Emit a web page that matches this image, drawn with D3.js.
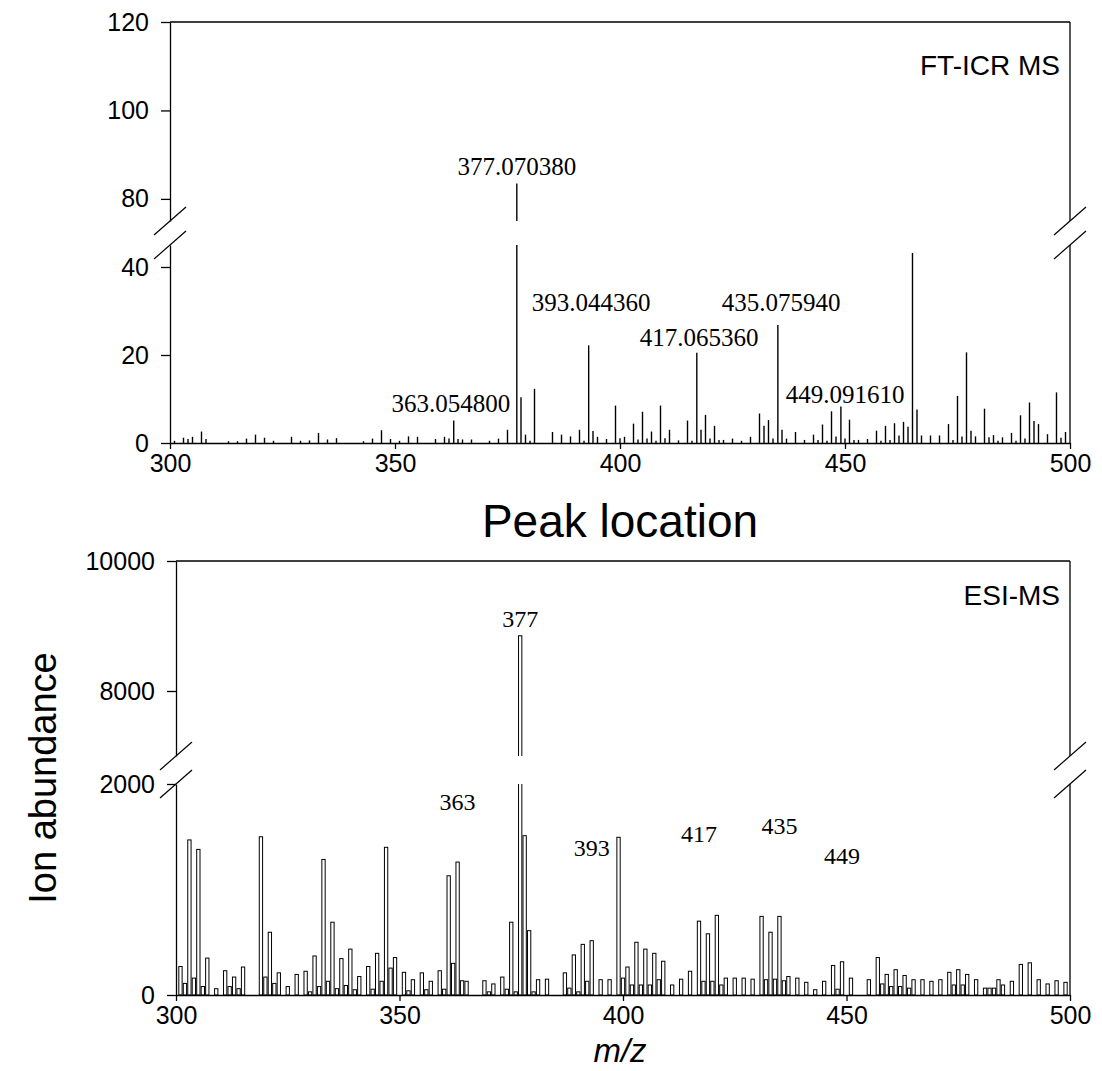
<!DOCTYPE html>
<html>
<head>
<meta charset="utf-8">
<script src="https://cdn.jsdelivr.net/npm/d3@7/dist/d3.min.js"></script>
<style>
body { margin: 0; background: #fff; }
text { fill: #000; }
</style>
</head>
<body>
<svg id="viz"></svg>
<script>
// FT-ICR MS stick spectrum
var ftMz = [301, 303, 304, 305, 307, 308, 313, 315, 317, 319, 321, 323, 327, 329, 331, 333, 335, 337,
    343, 345, 347, 349, 351, 353, 355, 359, 361, 362, 363.05, 364, 365, 367, 371, 373, 375,
    377.07, 378, 379, 380, 381, 385, 387, 389, 391, 392, 393.04, 394, 395, 397, 399, 400, 401, 403, 404,
    405, 406, 407, 408, 409, 410, 411, 413, 415, 416, 417.07, 418, 419, 420, 421, 422, 423, 425, 427,
    429, 431, 432, 433, 434, 435.08, 436, 437, 439, 441, 443, 444, 445, 446, 447, 448, 449.09, 450,
    451, 452, 453, 455, 457, 458, 459, 460, 461, 462, 463, 464, 465, 466, 467, 469, 471, 473, 474,
    475, 476, 477, 478, 479, 481, 482, 483, 484, 485, 487, 488, 489, 490, 491, 492, 493, 495, 497, 498, 499];
var ftAbundance = [0.5, 1.2, 0.9, 1.4, 2.6, 0.9, 0.4, 0.4, 1.0, 1.9, 1.2, 0.5, 1.4, 0.5, 0.6, 2.3, 0.8, 1.1,
    0.4, 1.0, 2.9, 0.9, 0.5, 1.5, 1.4, 0.9, 1.4, 1.0, 5.1, 0.9, 0.8, 0.8, 0.5, 1.0, 3.0,
    83.5, 10.4, 1.9, 0.5, 12.3, 2.5, 1.9, 1.5, 3.0, 0.5, 22.2, 2.7, 1.4, 0.9, 8.5, 1.1, 1.4, 4.4, 0.8,
    7.1, 1.0, 2.6, 0.5, 8.5, 1.1, 3.0, 0.6, 5.1, 0.5, 20.5, 3.0, 6.4, 1.0, 3.9, 0.7, 0.7, 1.0, 0.5,
    1.4, 6.7, 3.9, 5.2, 1.0, 26.8, 3.0, 1.0, 2.5, 0.7, 1.9, 0.7, 4.2, 0.5, 7.2, 1.5, 8.3, 1.0,
    5.3, 0.7, 0.7, 0.9, 2.8, 0.5, 3.9, 0.7, 4.5, 1.7, 4.8, 3.7, 43.2, 7.6, 1.7, 1.7, 1.7, 4.3, 0.7,
    10.7, 1.5, 20.6, 2.8, 1.5, 7.8, 1.3, 1.8, 0.5, 1.3, 2.3, 0.5, 6.3, 1.0, 9.2, 5.0, 4.3, 2.0, 11.5, 1.2, 2.5];
var ftLabels = ["377.070380", "363.054800", "393.044360", "417.065360", "435.075940", "449.091610"];
var ftLabelMz = [377.07, 362.4, 393.6, 417.6, 435.8, 450.0];
var ftLabelAt = [85.5, 7.0, 30.0, 22.0, 30.0, 9.0];

// ESI-MS bar spectrum
var esiMz = [301, 302, 303, 304, 305, 306, 307, 309, 311, 312, 313, 314, 315, 319, 320, 321, 322, 323,
    325, 327, 329, 330, 331, 332, 333, 334, 335, 336, 337, 338, 339, 340, 341, 343, 344, 345, 346, 347,
    348, 349, 351, 352, 353, 355, 356, 357, 359, 360, 361, 362, 363, 364, 365, 369, 370, 371, 373, 374,
    375, 376, 377, 378, 379, 380, 381, 383, 387, 388, 389, 390, 391, 392, 393, 395, 397, 399, 400, 401,
    402, 403, 404, 405, 406, 407, 408, 409, 411, 413, 415, 417, 418, 419, 420, 421, 422, 423, 425, 427,
    429, 431, 432, 433, 434, 435, 436, 437, 439, 441, 443, 445, 447, 448, 449, 451, 455, 457, 458, 459,
    460, 461, 462, 463, 464, 465, 467, 469, 471, 473, 474, 475, 476, 477, 479, 481, 482, 483, 484, 485,
    487, 489, 491, 493, 495, 497, 499];
var esiAbundance = [270, 110, 1470, 160, 1380, 80, 350, 60, 230, 80, 170, 60, 265, 1500, 170, 595, 110, 210,
    80, 195, 225, 30, 370, 80, 1285, 130, 690, 60, 345, 90, 435, 50, 175, 270, 55, 395, 130, 1400,
    255, 355, 215, 40, 145, 210, 50, 130, 230, 55, 1130, 300, 1260, 135, 130, 135, 30, 105, 170, 55,
    690, 30, 8850, 1510, 610, 30, 145, 150, 210, 65, 380, 30, 480, 130, 515, 145, 145, 1495, 160, 265,
    95, 500, 95, 435, 95, 395, 145, 320, 95, 150, 225, 700, 130, 580, 130, 755, 95, 160, 160, 160,
    150, 745, 145, 595, 150, 745, 135, 175, 160, 120, 50, 130, 280, 55, 315, 160, 145, 355, 105, 195,
    80, 240, 80, 185, 65, 145, 145, 130, 145, 215, 95, 240, 95, 195, 145, 65, 65, 65, 145, 95,
    130, 290, 305, 145, 105, 135, 120];
var esiLabels = ["377", "363", "393", "417", "435", "449"];
var esiLabelMz = [377, 363, 393, 417, 435, 449];
var esiLabelAt = [8985, 1750, 1320, 1450, 1530, 1240];

var xTicks = [300, 350, 400, 450, 500];
var ftLowTicks = [0, 20, 40];
var ftHighTicks = [80, 100, 120];
var esiLowTicks = [0, 2000];
var esiHighTicks = [8000, 10000];

var width = 1102;
var height = 1071;
var sans = "Arial, 'Liberation Sans', sans-serif";
var serif = "'Times New Roman', 'Liberation Serif', serif";

var svg = d3.select("#viz").attr("width", width).attr("height", height);

function drawPanel(cfg) {
    var g = svg.append("g");
    var x = d3.scaleLinear().domain([300, 500]).range([cfg.left, cfg.right]);
    var yLow = d3.scaleLinear().domain(cfg.lowDomain).range([cfg.bottom, cfg.lowTop]);
    var yHigh = d3.scaleLinear().domain(cfg.highDomain).range([cfg.highBottom, cfg.top]);

    var segs = [
        {id: cfg.id + "-low", y: yLow, y0: cfg.lowTop, y1: cfg.bottom, ticks: cfg.lowTicks},
        {id: cfg.id + "-high", y: yHigh, y0: cfg.top, y1: cfg.highBottom, ticks: cfg.highTicks}
    ];

    segs.forEach(function(s) {
        svg.append("clipPath").attr("id", s.id)
            .append("rect")
            .attr("x", cfg.left - 5).attr("y", s.y0)
            .attr("width", cfg.right - cfg.left + 10).attr("height", s.y1 - s.y0);

        var marks = g.append("g").attr("clip-path", "url(#" + s.id + ")");
        if (cfg.kind == "stick") {
            marks.selectAll("line").data(cfg.mz).enter().append("line")
                .attr("x1", function(d) { return x(d); })
                .attr("x2", function(d) { return x(d); })
                .attr("y1", s.y(0))
                .attr("y2", function(d, i) { return s.y(cfg.values[i]); })
                .attr("stroke", "#000")
                .attr("stroke-width", 1.4);
        } else {
            marks.selectAll("rect").data(cfg.mz).enter().append("rect")
                .attr("x", function(d) { return x(d - 0.37); })
                .attr("width", function(d) { return x(d + 0.37) - x(d - 0.37); })
                .attr("y", function(d, i) { return s.y(cfg.values[i]); })
                .attr("height", function(d, i) { return s.y(0) - s.y(cfg.values[i]); })
                .attr("fill", "#fff")
                .attr("stroke", "#000")
                .attr("stroke-width", 1);
        }

        var ax = g.append("g")
            .attr("transform", "translate(" + cfg.left + ",0)")
            .call(d3.axisLeft(s.y).tickValues(s.ticks).tickFormat(d3.format("d"))
                .tickSize(9).tickSizeOuter(0).tickPadding(12));
        ax.select(".domain").attr("stroke", "#000").attr("stroke-width", 1.3);
        ax.selectAll(".tick line").attr("stroke", "#000").attr("stroke-width", 1.3);
        ax.selectAll(".tick text").attr("font-family", sans).attr("font-size", 25).attr("fill", "#000");

        // right border segment
        g.append("line")
            .attr("x1", cfg.right).attr("x2", cfg.right)
            .attr("y1", s.y0).attr("y2", s.y1)
            .attr("stroke", "#000").attr("stroke-width", 1.3);
    });

    // top border
    g.append("line")
        .attr("x1", cfg.left).attr("x2", cfg.right)
        .attr("y1", cfg.top).attr("y2", cfg.top)
        .attr("stroke", "#000").attr("stroke-width", 1.3);

    var xa = g.append("g")
        .attr("transform", "translate(0," + cfg.bottom + ")")
        .call(d3.axisBottom(x).tickValues(xTicks).tickSize(6).tickSizeOuter(0).tickPadding(5));
    xa.select(".domain").attr("stroke", "#000").attr("stroke-width", 1.3);
    xa.selectAll(".tick line").attr("stroke", "#000").attr("stroke-width", 1.3);
    xa.selectAll(".tick text").attr("font-family", sans).attr("font-size", 25).attr("fill", "#000");

    // axis break marks
    [cfg.left, cfg.right].forEach(function(bx) {
        [cfg.lowTop, cfg.highBottom].forEach(function(by) {
            g.append("line")
                .attr("x1", bx - 16).attr("y1", by + 14)
                .attr("x2", bx + 16).attr("y2", by - 14)
                .attr("stroke", "#000").attr("stroke-width", 1.2);
        });
    });

    // peak labels
    cfg.labels.forEach(function(t, i) {
        var v = cfg.labelAt[i];
        var yy = v > cfg.highDomain[0] ? yHigh(v) : yLow(v);
        g.append("text")
            .attr("x", x(cfg.labelMz[i]))
            .attr("y", yy)
            .attr("text-anchor", "middle")
            .attr("font-family", serif)
            .attr("font-size", cfg.labelSize)
            .text(t);
    });

    g.append("text")
        .attr("x", cfg.right - 10)
        .attr("y", cfg.top + cfg.titleDy)
        .attr("text-anchor", "end")
        .attr("font-family", sans)
        .attr("font-size", 28)
        .text(cfg.title);

    return x;
}

drawPanel({
    id: "ft", kind: "stick", mz: ftMz, values: ftAbundance,
    left: 170, right: 1070, top: 22, bottom: 443,
    lowDomain: [0, 45], lowTop: 245,
    highDomain: [75, 120], highBottom: 221,
    lowTicks: ftLowTicks, highTicks: ftHighTicks,
    labels: ftLabels, labelMz: ftLabelMz, labelAt: ftLabelAt, labelSize: 25,
    title: "FT-ICR MS", titleDy: 53
});

drawPanel({
    id: "esi", kind: "bar", mz: esiMz, values: esiAbundance,
    left: 176, right: 1070, top: 561, bottom: 995,
    lowDomain: [0, 2000], lowTop: 784,
    highDomain: [7000, 10000], highBottom: 756,
    lowTicks: esiLowTicks, highTicks: esiHighTicks,
    labels: esiLabels, labelMz: esiLabelMz, labelAt: esiLabelAt, labelSize: 24,
    title: "ESI-MS", titleDy: 44
});

svg.append("text")
    .attr("x", 620).attr("y", 537)
    .attr("text-anchor", "middle")
    .attr("font-family", sans).attr("font-size", 46)
    .text("Peak location");

svg.append("text")
    .attr("transform", "translate(56,778) rotate(-90)")
    .attr("text-anchor", "middle")
    .attr("font-family", sans).attr("font-size", 38)
    .text("Ion abundance");

svg.append("text")
    .attr("x", 620).attr("y", 1062)
    .attr("text-anchor", "middle")
    .attr("font-family", sans).attr("font-size", 33)
    .attr("font-style", "italic")
    .text("m/z");
</script>
</body>
</html>
